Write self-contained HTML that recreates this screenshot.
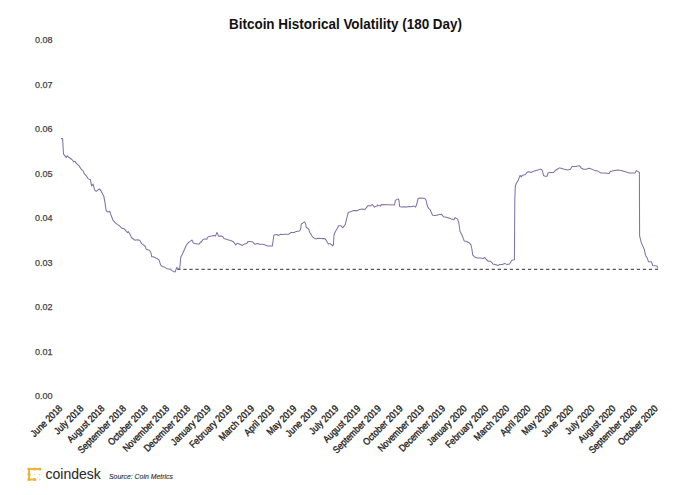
<!DOCTYPE html>
<html><head><meta charset="utf-8">
<style>
html,body{margin:0;padding:0;background:#fff;}
body{width:700px;height:495px;position:relative;overflow:hidden;font-family:"Liberation Sans",sans-serif;}
.title{position:absolute;left:229px;top:15.5px;font-size:14px;font-weight:bold;color:#111;white-space:nowrap;line-height:16px;transform-origin:0 0;transform:scaleX(0.961);}
.yl{position:absolute;left:35px;font-size:9px;color:#444;-webkit-text-stroke:0.25px #444;line-height:10px;margin-top:-5px;white-space:nowrap;}
.xl{position:absolute;top:407.2px;width:0;height:0;}
.xl span{position:absolute;right:0;top:-6px;line-height:12px;font-size:9.8px;color:#222;-webkit-text-stroke:0.35px #222;white-space:nowrap;transform-origin:100% 50%;transform:rotate(-45deg) scaleX(0.876);}
svg{position:absolute;left:0;top:0;}
.logo-t{position:absolute;left:45.5px;top:466px;font-size:14px;color:#2b2b2b;-webkit-text-stroke:0.08px #2b2b2b;line-height:16px;white-space:nowrap;}
.src{position:absolute;left:109px;top:471.6px;font-size:8.1px;font-style:italic;color:#2a2a2a;-webkit-text-stroke:0.12px #2a2a2a;transform-origin:0 0;transform:scaleX(0.85);line-height:9px;white-space:nowrap;}
</style></head><body>
<div class="title">Bitcoin Historical Volatility (180 Day)</div>
<div class="yl" style="top:40.40px">0.08</div>
<div class="yl" style="top:84.85px">0.07</div>
<div class="yl" style="top:129.30px">0.06</div>
<div class="yl" style="top:173.75px">0.05</div>
<div class="yl" style="top:218.20px">0.04</div>
<div class="yl" style="top:262.65px">0.03</div>
<div class="yl" style="top:307.10px">0.02</div>
<div class="yl" style="top:351.55px">0.01</div>
<div class="yl" style="top:396.00px">0.00</div>

<svg width="700" height="495" viewBox="0 0 700 495">
<line x1="177.3" y1="269.3" x2="658" y2="269.3" stroke="#575757" stroke-width="1.25" stroke-dasharray="3.25 2.796"/>
<path d="M61.0,138.6 L62.6,138.6 L63.5,154 L65.3,156.4 L66.2,157.6 L67.1,155.6 L68.3,157 L70.1,158.2 L71.9,159.5 L73.8,161.9 L75,161.3 L76.2,163.1 L79.2,166.1 L81.6,169.8 L82.8,170.4 L84.1,173.4 L87.1,177 L88,178.6 L90.4,179.8 L91.6,185.9 L93.1,184.1 L94.7,190.2 L96.2,191.4 L97.7,190.2 L99.5,188.9 L101.3,191.4 L103.8,196.2 L105,202.9 L106.2,210.8 L108,212 L109.8,211.4 L111,215 L112.8,219.8 L115.3,222.9 L119.5,225.9 L122,228.3 L124.5,229.1 L126.5,231.6 L127.6,232.6 L128.3,231.6 L130.1,234.6 L131.6,237.7 L135.1,240.2 L137.2,239.7 L139.7,240.2 L141.7,243.7 L143.7,245.2 L145.2,246.2 L146.2,249.3 L149.3,250.3 L150.8,252.3 L151.8,256.8 L153.3,256.8 L155.8,257.9 L157,258.3 L159,259.8 L160.6,264.8 L162.1,266.4 L164.1,266.9 L165.6,267.9 L167.6,268.9 L170.2,268.9 L171.7,270.4 L173.2,271.4 L175.2,271.9 L176.7,267.4 L177.7,268.4 L179,268.9 L179.7,268.9 L180.8,257.3 L182.8,253.2 L184.3,249.7 L186.3,245.2 L188.3,242.6 L191.9,240.1 L193.4,243.1 L194.9,243.6 L197.1,243.9 L199.3,243.9 L200.7,241.8 L201.4,242.1 L202.9,239.6 L204.3,238.9 L206.8,239.3 L207.9,237.1 L209.3,236.4 L211.4,236.1 L213.6,235.4 L215.4,236.1 L217,232.5 L218.6,236.1 L221.4,236.1 L222.9,236.8 L223.9,238.6 L225.7,238.9 L228.6,240 L230.7,240.4 L232.9,241.4 L234.3,242.9 L235.7,245 L237.1,243.2 L239.9,244.3 L242.4,245.4 L244.6,243.9 L246.7,243.6 L248.1,241.4 L250.3,241.4 L252.8,242.1 L254.9,244.3 L257.4,243.6 L259.6,244.3 L263.1,244.3 L265.3,245 L267.4,245.9 L272.4,245.9 L273.9,235 L276.7,234.6 L278.9,235.4 L280.3,234.3 L282.4,234.6 L284.9,234.3 L288.8,234.3 L290.6,232.5 L294.1,232.5 L296.3,231.4 L299.5,231.1 L300.6,229.3 L301.3,223.9 L302.7,223.2 L304.5,221.8 L305.6,223.6 L306.3,227.5 L307.4,227.9 L308.8,229.3 L309.9,232.9 L310.9,233.9 L312,236.1 L313.8,237.9 L316.3,238.9 L317.7,238.2 L322,238.6 L324.9,238.6 L326.3,240.4 L328.4,244 L329.9,243.6 L332,245 L332.6,245.8 L333.4,245.2 L334,234.8 L335.6,231.3 L337.1,228.8 L338.6,225.8 L341.1,225.8 L342.6,227.8 L345.2,224.7 L346.7,218.7 L348.2,212.6 L351.2,211.6 L353.7,210.6 L357.3,210.6 L359.8,209.6 L362.3,209.1 L364.8,209.6 L366.4,207.6 L367.9,205.6 L369.9,206.1 L372.4,204.5 L374.4,207.1 L377,206.1 L377.4,205 L379.2,205.4 L380.3,206.1 L381.4,204.6 L394.6,205 L395.3,200.4 L396.7,199.6 L398.1,198.9 L398.9,200 L399.6,206.4 L401.7,207.1 L404.6,206.8 L406.7,207.1 L408.9,206.4 L411,206.8 L413.9,206.1 L415.6,207.1 L416.7,204.3 L418.1,198.6 L419.6,197.9 L424.8,198.2 L426.1,200.3 L427.3,205.8 L428.5,208.2 L430.3,210 L431.5,213 L432.7,215.2 L435.8,215.5 L438.2,214.8 L441.2,214.2 L443.6,216.7 L447.3,217.6 L450.9,218.8 L453.9,219.7 L455.2,217.6 L457.6,219.1 L458.8,222.7 L460,231.2 L462.4,236.1 L464.2,240.9 L466.7,241.5 L469.7,243.3 L471,244.8 L471.7,248 L472.8,255.1 L474.6,256.9 L477.4,257.9 L480.3,258.1 L483.1,258.4 L484.9,257.6 L486.4,259.8 L488.5,261.2 L490.3,261.2 L491.7,262.3 L492.8,264.1 L495.3,264.4 L498.1,265.5 L499.9,264.4 L502.4,264.4 L504.6,263.4 L506.7,264.4 L509.6,264.1 L511.4,260.9 L512.4,260.1 L514.4,259.8 L514.8,200 L515.3,185.9 L516.5,183 L518.1,180.6 L518.9,178.6 L520.1,175.4 L521.3,177 L522.1,175.4 L525.4,174.5 L527.4,172.1 L529,171.7 L531,172.5 L533.4,171.3 L535.9,170.5 L537.9,170.1 L539.9,169.1 L541.9,169.7 L542.7,172.1 L543.5,175.4 L545.2,176.2 L547.2,176.2 L548,172.9 L549.6,172.5 L553.6,172.5 L555,170.7 L557.1,169.3 L559.3,167.9 L561.4,168.2 L564.3,169.3 L567.5,170 L570.4,169.3 L572.1,166.4 L575.7,166.4 L579.3,165.7 L581.4,168.2 L583.6,169.3 L586.4,169.3 L588.9,168.2 L591.4,168.9 L594.3,170.4 L597.9,171.1 L600.7,172.9 L604.3,173 L608.9,173.6 L610.4,171.4 L614.3,170.4 L617.9,170 L621.4,170.4 L624.3,171.4 L626.4,172.1 L629.3,172.9 L632.1,172.9 L635,172.9 L636.4,170.6 L637.9,171.4 L639.4,172.5 L639.6,235.8 L641.2,242.4 L644.2,249.1 L645.5,255.2 L647.3,258.2 L648.5,261.8 L651.5,261.8 L652.7,265.5 L655.8,265.8 L657,266 L657.6,268.5" fill="none" stroke="#8073a8" stroke-width="1.05" stroke-linejoin="round"/>
<g fill="none" stroke="#f3b63c" stroke-width="2.1" stroke-linecap="round" stroke-linejoin="round">
<path d="M39.9 469 L29 469 L29 479.5 L34.7 479.5"/>
</g>
<g fill="#f0b032">
<circle cx="29" cy="469" r="1.6"/><circle cx="34.6" cy="469" r="1.5"/><circle cx="39.9" cy="469" r="1.6"/>
<circle cx="29" cy="474.2" r="1.5"/><circle cx="29" cy="479.5" r="1.6"/><circle cx="34.7" cy="479.5" r="1.6"/>
</g>
<g fill="#e4ddd6"><circle cx="34.6" cy="474.5" r="0.8"/><circle cx="39.7" cy="474.7" r="0.8"/><circle cx="39.7" cy="479.6" r="0.8"/></g>
</svg>
<div id="xls">
<div class="xl" style="left:60.90px"><span>June 2018</span></div>
<div class="xl" style="left:82.17px"><span>July 2018</span></div>
<div class="xl" style="left:103.44px"><span>August 2018</span></div>
<div class="xl" style="left:124.71px"><span>September 2018</span></div>
<div class="xl" style="left:145.98px"><span>October 2018</span></div>
<div class="xl" style="left:167.25px"><span>November 2018</span></div>
<div class="xl" style="left:188.52px"><span>December 2018</span></div>
<div class="xl" style="left:209.79px"><span>January 2019</span></div>
<div class="xl" style="left:231.06px"><span>February 2019</span></div>
<div class="xl" style="left:252.33px"><span>March 2019</span></div>
<div class="xl" style="left:273.60px"><span>April 2019</span></div>
<div class="xl" style="left:294.87px"><span>May 2019</span></div>
<div class="xl" style="left:316.14px"><span>June 2019</span></div>
<div class="xl" style="left:337.41px"><span>July 2019</span></div>
<div class="xl" style="left:358.68px"><span>August 2019</span></div>
<div class="xl" style="left:379.95px"><span>September 2019</span></div>
<div class="xl" style="left:401.22px"><span>October 2019</span></div>
<div class="xl" style="left:422.49px"><span>November 2019</span></div>
<div class="xl" style="left:443.76px"><span>December 2019</span></div>
<div class="xl" style="left:465.03px"><span>January 2020</span></div>
<div class="xl" style="left:486.30px"><span>February 2020</span></div>
<div class="xl" style="left:507.57px"><span>March 2020</span></div>
<div class="xl" style="left:528.84px"><span>April 2020</span></div>
<div class="xl" style="left:550.11px"><span>May 2020</span></div>
<div class="xl" style="left:571.38px"><span>June 2020</span></div>
<div class="xl" style="left:592.65px"><span>July 2020</span></div>
<div class="xl" style="left:613.92px"><span>August 2020</span></div>
<div class="xl" style="left:635.19px"><span>September 2020</span></div>
<div class="xl" style="left:656.46px"><span>October 2020</span></div>

</div>
<div class="logo-t">coindesk</div>
<div class="src">Source: Coin Metrics</div>
</body></html>
